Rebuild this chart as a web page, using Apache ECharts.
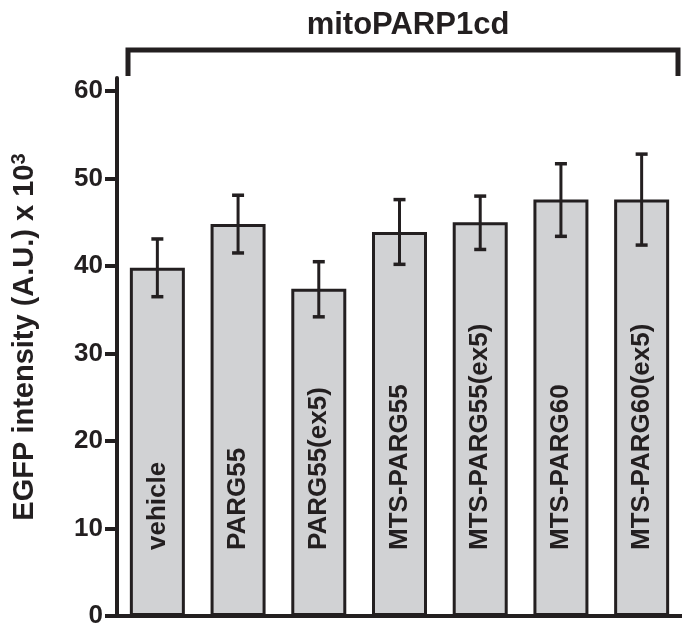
<!DOCTYPE html>
<html>
<head>
<meta charset="utf-8">
<script src="https://cdn.jsdelivr.net/npm/echarts@6/dist/echarts.min.js"></script>
<style>
  html, body { margin: 0; padding: 0; background: #fff; }
  #chart { width: 682px; height: 629px; }
</style>
</head>
<body>
<div id="chart"></div>
<script>
// ======================
// DATA
// ======================
const CATEGORIES = ["vehicle", "PARG55", "PARG55(ex5)", "MTS-PARG55", "MTS-PARG55(ex5)", "MTS-PARG60", "MTS-PARG60(ex5)"];
const MEANS = [39.8, 44.8, 37.4, 43.9, 45.0, 47.6, 47.6];
const ERR_LOW = [36.5, 41.5, 34.2, 40.2, 41.9, 43.4, 42.4];
const ERR_HIGH = [43.1, 48.1, 40.5, 47.6, 48.0, 51.7, 52.8];
const Y_TICKS = [0, 10, 20, 30, 40, 50, 60];

const INK = "#231f20";
const FILL = "#d1d2d4";
const FONT = "'Liberation Sans', Arial, sans-serif";

const chart = echarts.init(document.getElementById("chart"));

chart.setOption({
    backgroundColor: "#fff",
    animation: false,
    textStyle: { fontFamily: FONT, color: INK },
    title: {
        text: "mitoPARP1cd",
        left: 403,
        top: 5,
        textAlign: "center",
        textStyle: { fontSize: 31, fontWeight: "bold", color: INK, fontFamily: FONT }
    },
    grid: { left: 117, top: 78, width: 573, height: 540 },
    xAxis: {
        type: "category",
        data: CATEGORIES,
        axisLine: { lineStyle: { color: INK, width: 4 } },
        axisTick: { show: false },
        axisLabel: { show: false },
        z: 5
    },
    yAxis: {
        type: "value",
        min: 0,
        max: 61.5,
        interval: 10,
        splitLine: { show: false },
        axisLine: { show: true, lineStyle: { color: INK, width: 4 } },
        axisTick: {
            show: true,
            length: 12,
            customValues: Y_TICKS,
            lineStyle: { color: INK, width: 4 }
        },
        axisLabel: {
            customValues: Y_TICKS,
            margin: 14,
            fontSize: 26,
            fontWeight: "bold",
            color: INK,
            fontFamily: FONT
        },
        name: "{t|EGFP intensity (A.U.) x 10}{s|3}",
        nameLocation: "middle",
        nameGap: 76,
        nameRotate: 90,
        nameTextStyle: {
            padding: [0, 0, 0, 20],
            rich: {
                t: { fontSize: 29, fontWeight: "bold", color: INK, fontFamily: FONT, lineHeight: 32 },
                s: { fontSize: 20, fontWeight: "bold", color: INK, fontFamily: FONT, lineHeight: 20, verticalAlign: "top" }
            }
        }
    },
    graphic: [{
        type: "polyline",
        shape: { points: [[128, 76], [128, 50], [678, 50], [678, 76]] },
        style: { stroke: INK, lineWidth: 5, fill: null, lineJoin: "miter" }
    }],
    series: [
        {
            type: "bar",
            data: MEANS,
            barWidth: 55,
            itemStyle: { color: FILL, borderColor: INK, borderWidth: 3 },
            label: {
                show: true,
                formatter: "{b}",
                position: ["50%", "100%"],
                rotate: 90,
                align: "left",
                verticalAlign: "middle",
                padding: [0, 0, 0, 66],
                fontSize: 26,
                fontWeight: "bold",
                color: INK,
                fontFamily: FONT
            },
            z: 2
        },
        {
            type: "custom",
            data: CATEGORIES.map((c, i) => [i, ERR_LOW[i], ERR_HIGH[i]]),
            renderItem: (params, api) => {
                const x = api.value(0);
                const lo = api.coord([x, api.value(1)]);
                const hi = api.coord([x, api.value(2)]);
                const cap = 6;
                const style = { stroke: INK, lineWidth: 3.5 };
                return {
                    type: "group",
                    children: [
                        { type: "line", shape: { x1: lo[0], y1: lo[1], x2: hi[0], y2: hi[1] }, style: { stroke: INK, lineWidth: 3 } },
                        { type: "line", shape: { x1: hi[0] - cap, y1: hi[1], x2: hi[0] + cap, y2: hi[1] }, style },
                        { type: "line", shape: { x1: lo[0] - cap, y1: lo[1], x2: lo[0] + cap, y2: lo[1] }, style }
                    ]
                };
            },
            z: 4
        }
    ]
});

window.addEventListener("resize", () => chart.resize());
</script>
</body>
</html>
